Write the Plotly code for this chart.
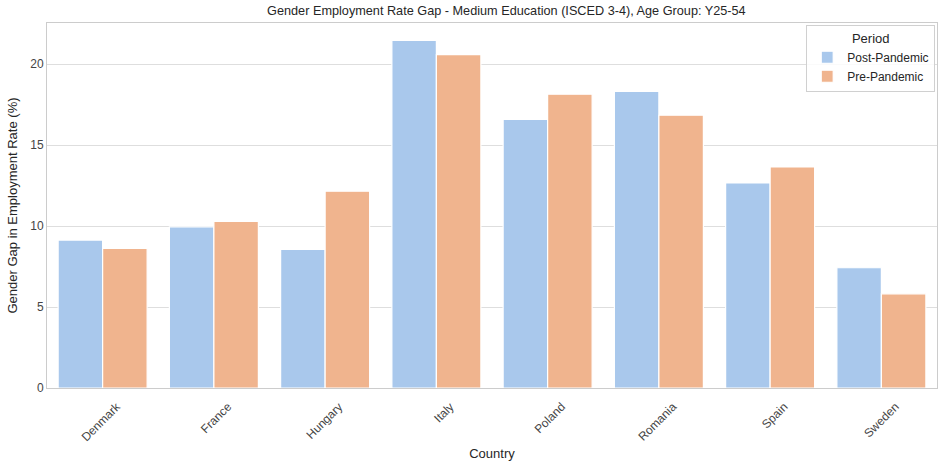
import plotly.graph_objects as go

countries = ["Denmark", "France", "Hungary", "Italy", "Poland", "Romania", "Spain", "Sweden"]
post_pandemic = [9.14, 9.96, 8.56, 21.48, 16.59, 18.33, 12.67, 7.43]
pre_pandemic = [8.62, 10.29, 12.16, 20.6, 18.15, 16.85, 13.66, 5.82]
y_ticks = [0, 5, 10, 15, 20]

BLUE = "#a9c8ec"
ORANGE = "#f0b48e"
FONT = "Liberation Sans, Arial, sans-serif"

fig = go.Figure()
fig.add_trace(go.Bar(x=countries, y=post_pandemic, name="Post-Pandemic",
                     marker=dict(color=BLUE, line=dict(color="white", width=1.2))))
fig.add_trace(go.Bar(x=countries, y=pre_pandemic, name="Pre-Pandemic",
                     marker=dict(color=ORANGE, line=dict(color="white", width=1.2))))

fig.update_layout(
    width=943, height=462,
    margin=dict(l=47, r=6, t=23, b=74),
    paper_bgcolor="white", plot_bgcolor="white",
    font=dict(family=FONT, size=12, color="#262626"),
    barmode="group", bargap=0.2, bargroupgap=0,
    title=dict(text="Gender Employment Rate Gap - Medium Education (ISCED 3-4), Age Group: Y25-54",
               x=0.537, xanchor="center", y=0.978, yanchor="middle",
               font=dict(size=12.7, color="#262626")),
    legend=dict(x=0.998, y=0.995, xanchor="right", yanchor="top",
                bgcolor="rgba(255,255,255,0.85)", bordercolor="#d0d0d0", borderwidth=1,
                title=dict(text="Period", side="top center", font=dict(size=13)),
                font=dict(size=12), tracegroupgap=0, itemwidth=30),
    showlegend=True,
)
fig.update_xaxes(
    title=dict(text="Country", font=dict(size=13), standoff=5),
    automargin=False,
    tickangle=-45, ticklabelshift=14, ticklabelstandoff=6,
    showline=True, linecolor="#cccccc", linewidth=1, mirror=True,
    showgrid=False, ticks="", tickfont=dict(size=12, color="#444444"),
)
fig.update_yaxes(
    title=dict(text="Gender Gap in Employment Rate (%)", font=dict(size=13), standoff=9),
    automargin=False,
    range=[0, 22.55], tickvals=y_ticks,
    showline=True, linecolor="#cccccc", linewidth=1, mirror=True,
    showgrid=True, gridcolor="#dedede", gridwidth=1, zeroline=False,
    ticks="", tickfont=dict(size=12, color="#444444"),
)
fig.write_html("out.html", config={"displayModeBar": False},
               post_script="document.body.style.margin='0';")
